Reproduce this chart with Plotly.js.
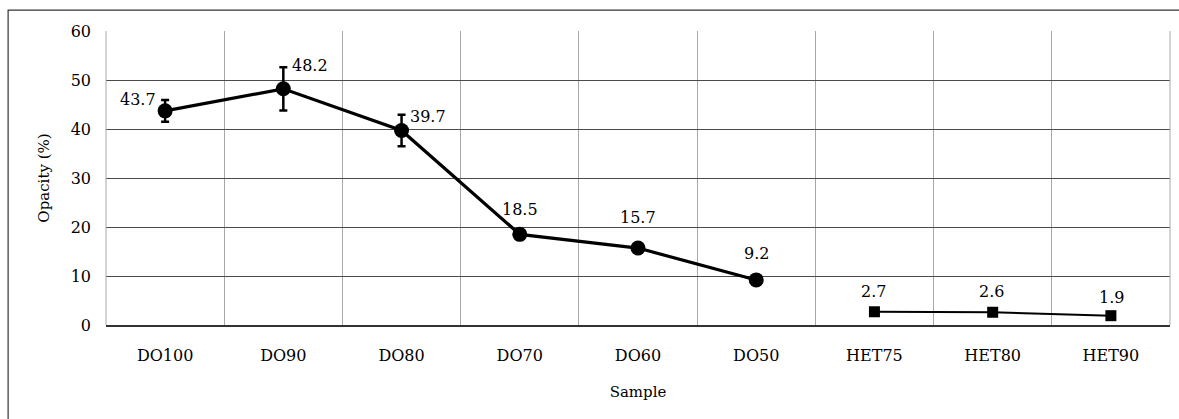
<!DOCTYPE html>
<html>
<head>
<meta charset="utf-8">
<script src="https://cdn.plot.ly/plotly-3.0.1.min.js"></script>
<style>html,body{margin:0;padding:0;background:#fff;}#chart{width:1179px;height:419px;}</style>
</head>
<body>
<div id="chart"></div>
<script>
const categories = ["DO100","DO90","DO80","DO70","DO60","DO50","HET75","HET80","HET90"];
const doSamples = ["DO100","DO90","DO80","DO70","DO60","DO50"];
const doValues = [43.7, 48.2, 39.7, 18.5, 15.7, 9.2];
const doErrors = [2.2, 4.4, 3.2, 1.0, 0.5, 0.5];
const doLabels = ["43.7","48.2","39.7","18.5","15.7","9.2"];
const hetSamples = ["HET75","HET80","HET90"];
const hetValues = [2.7, 2.6, 1.9];
const hetLabels = ["2.7","2.6","1.9"];
const yTicks = [0,10,20,30,40,50,60];

// label offsets in pixels (style only)
const doShiftX = [-27, 27, 26, 0, 0, 0];
const doShiftY = [11, 23, 14, 25, 31, 26];
const hetShiftX = [-1, -1, 1];
const hetShiftY = [20, 21, 18];

const serif = "DejaVu Serif";

const traces = [
  {
    x: doSamples, y: doValues, type: "scatter", mode: "lines+markers",
    line: {color: "#000", width: 3.2},
    marker: {symbol: "circle", size: 15, color: "#000"},
    error_y: {type: "data", array: doErrors, visible: true, color: "#000", thickness: 2.5, width: 4},
    cliponaxis: false, showlegend: false, hoverinfo: "skip"
  },
  {
    x: hetSamples, y: hetValues, type: "scatter", mode: "lines+markers",
    line: {color: "#000", width: 2},
    marker: {symbol: "square", size: 11, color: "#000"},
    cliponaxis: false, showlegend: false, hoverinfo: "skip"
  }
];

const annotations = [];
doSamples.forEach((s, i) => annotations.push({
  x: s, y: doValues[i], xref: "x", yref: "y", text: doLabels[i], showarrow: false,
  xshift: doShiftX[i], yshift: doShiftY[i], xanchor: "center", yanchor: "middle",
  font: {family: serif, size: 16, color: "#000"}
}));
hetSamples.forEach((s, i) => annotations.push({
  x: s, y: hetValues[i], xref: "x", yref: "y", text: hetLabels[i], showarrow: false,
  xshift: hetShiftX[i], yshift: hetShiftY[i], xanchor: "center", yanchor: "middle",
  font: {family: serif, size: 16, color: "#000"}
}));

const layout = {
  width: 1179, height: 419,
  margin: {l: 106, r: 9, t: 31, b: 94},
  paper_bgcolor: "#fff", plot_bgcolor: "#fff",
  font: {family: serif, color: "#000"},
  xaxis: {
    type: "category", categoryorder: "array", categoryarray: categories,
    tickvals: categories, ticktext: categories,
    tickson: "boundaries", ticks: "",
    showgrid: true, gridcolor: "#a8a8a8", gridwidth: 1,
    showline: true, linecolor: "#333", linewidth: 1.5,
    tickfont: {family: serif, size: 16, color: "#000"},
    ticklabelstandoff: 15,
    title: {text: "Sample", font: {family: serif, size: 15, color: "#000"}, standoff: 23},
    range: [-0.5, 8.5], fixedrange: true
  },
  yaxis: {
    range: [0, 60], tickvals: yTicks, ticktext: yTicks.map(String),
    showgrid: true, gridcolor: "#4a4a4a", gridwidth: 1,
    zeroline: false, showline: false, ticks: "",
    tickfont: {family: serif, size: 16, color: "#000"},
    ticklabelstandoff: 14,
    title: {text: "Opacity (%)", font: {family: serif, size: 15, color: "#000"}, standoff: 17},
    fixedrange: true
  },
  annotations: annotations,
  shapes: [
    {type: "rect", xref: "paper", yref: "paper", x0: -0.092, x1: 1.2, y0: -0.6, y1: 1.0713,
     line: {color: "#333", width: 1.2}, fillcolor: "rgba(0,0,0,0)", layer: "below"},
    {type: "line", xref: "paper", yref: "paper", x0: 0, x1: 0, y0: 0, y1: 1, line: {color: "#a8a8a8", width: 1}},
    {type: "line", xref: "paper", yref: "paper", x0: 1, x1: 1, y0: 0, y1: 1, line: {color: "#a8a8a8", width: 1}}
  ]
};

Plotly.newPlot("chart", traces, layout, {staticPlot: true, displayModeBar: false});
</script>
</body>
</html>
